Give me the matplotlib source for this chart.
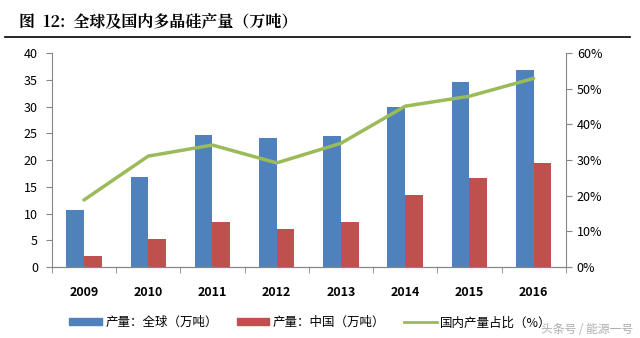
import matplotlib.pyplot as plt
import numpy as np
from matplotlib.patches import Patch
from matplotlib.lines import Line2D

plt.rcParams['font.family'] = ['Noto Sans CJK SC', 'DejaVu Sans']

years = ['2009', '2010', '2011', '2012', '2013', '2014', '2015', '2016']
world = [10.6, 16.9, 24.7, 24.2, 24.5, 30.0, 34.5, 36.8]
china = [2.0, 5.2, 8.5, 7.1, 8.5, 13.5, 16.6, 19.5]
share = [18.8, 31.1, 34.2, 29.2, 34.7, 45.1, 47.9, 52.9]

blue = '#4F81BD'
red = '#C0504D'
green = '#9BBB59'
grey = '#868686'

fig = plt.figure(figsize=(6.4, 3.38), dpi=100)
ax = fig.add_axes([0.081, 0.21, 0.803, 0.633])
ax2 = ax.twinx()

x = np.arange(len(years))
w = 0.275
ax.bar(x - w / 2, world, w, color=blue, zorder=2)
ax.bar(x + w / 2, china, w, color=red, zorder=2)
ax2.plot(x, share, color=green, lw=2.5, solid_capstyle='round')

ax.set_xlim(-0.5, len(years) - 0.5)
ax.set_ylim(0, 40)
ax.set_yticks(range(0, 41, 5))
ax2.set_ylim(0, 60)
ax2.set_yticks(range(0, 61, 10))
ax2.set_yticklabels([f'{v}%' for v in range(0, 61, 10)])

ax.set_xticks(x)
ax.set_xticklabels(years, fontsize=9, fontweight='bold')
ax.set_xticks(np.arange(-0.5, len(years), 1), minor=True)
ax.tick_params(axis='x', which='major', length=0, pad=14)
ax.tick_params(axis='x', which='minor', length=4, direction='out', color=grey)
ax.tick_params(axis='y', length=4, color=grey, labelsize=9, pad=6)
ax2.tick_params(axis='y', length=4, color=grey, labelsize=9, pad=4)

for a in (ax, ax2):
    a.spines['top'].set_visible(False)
    for s in ('left', 'right', 'bottom'):
        a.spines[s].set_color(grey)
ax.spines['right'].set_visible(False)
ax2.spines['left'].set_visible(False)

# title and rule
fig.text(0.03, 0.935, '图  12:  全球及国内多晶硅产量（万吨）', fontsize=11.5,
         fontweight='bold', ha='left', va='center',
         family=['Noto Serif CJK SC', 'Noto Sans CJK SC', 'DejaVu Sans'])
fig.add_artist(Line2D([0.008, 0.985], [0.892, 0.892], color='black', lw=1.2))

handles = [Patch(color=blue), Patch(color=red), Line2D([], [], color=green, lw=2)]
labels = ['产量：全球（万吨）', '产量：中国（万吨）', '国内产量占比（%）']
fig.legend(handles, labels, loc='center', bbox_to_anchor=(0.485, 0.045), ncol=3,
           frameon=False, fontsize=9, handlelength=2.6, handleheight=0.5,
           columnspacing=1.5, handletextpad=0.3)

fig.text(0.99, 0.025, '头条号 / 能源一号', fontsize=8.5, color='#999999',
         ha='right', va='center', alpha=0.8)

fig.savefig('out.png', dpi=100)
